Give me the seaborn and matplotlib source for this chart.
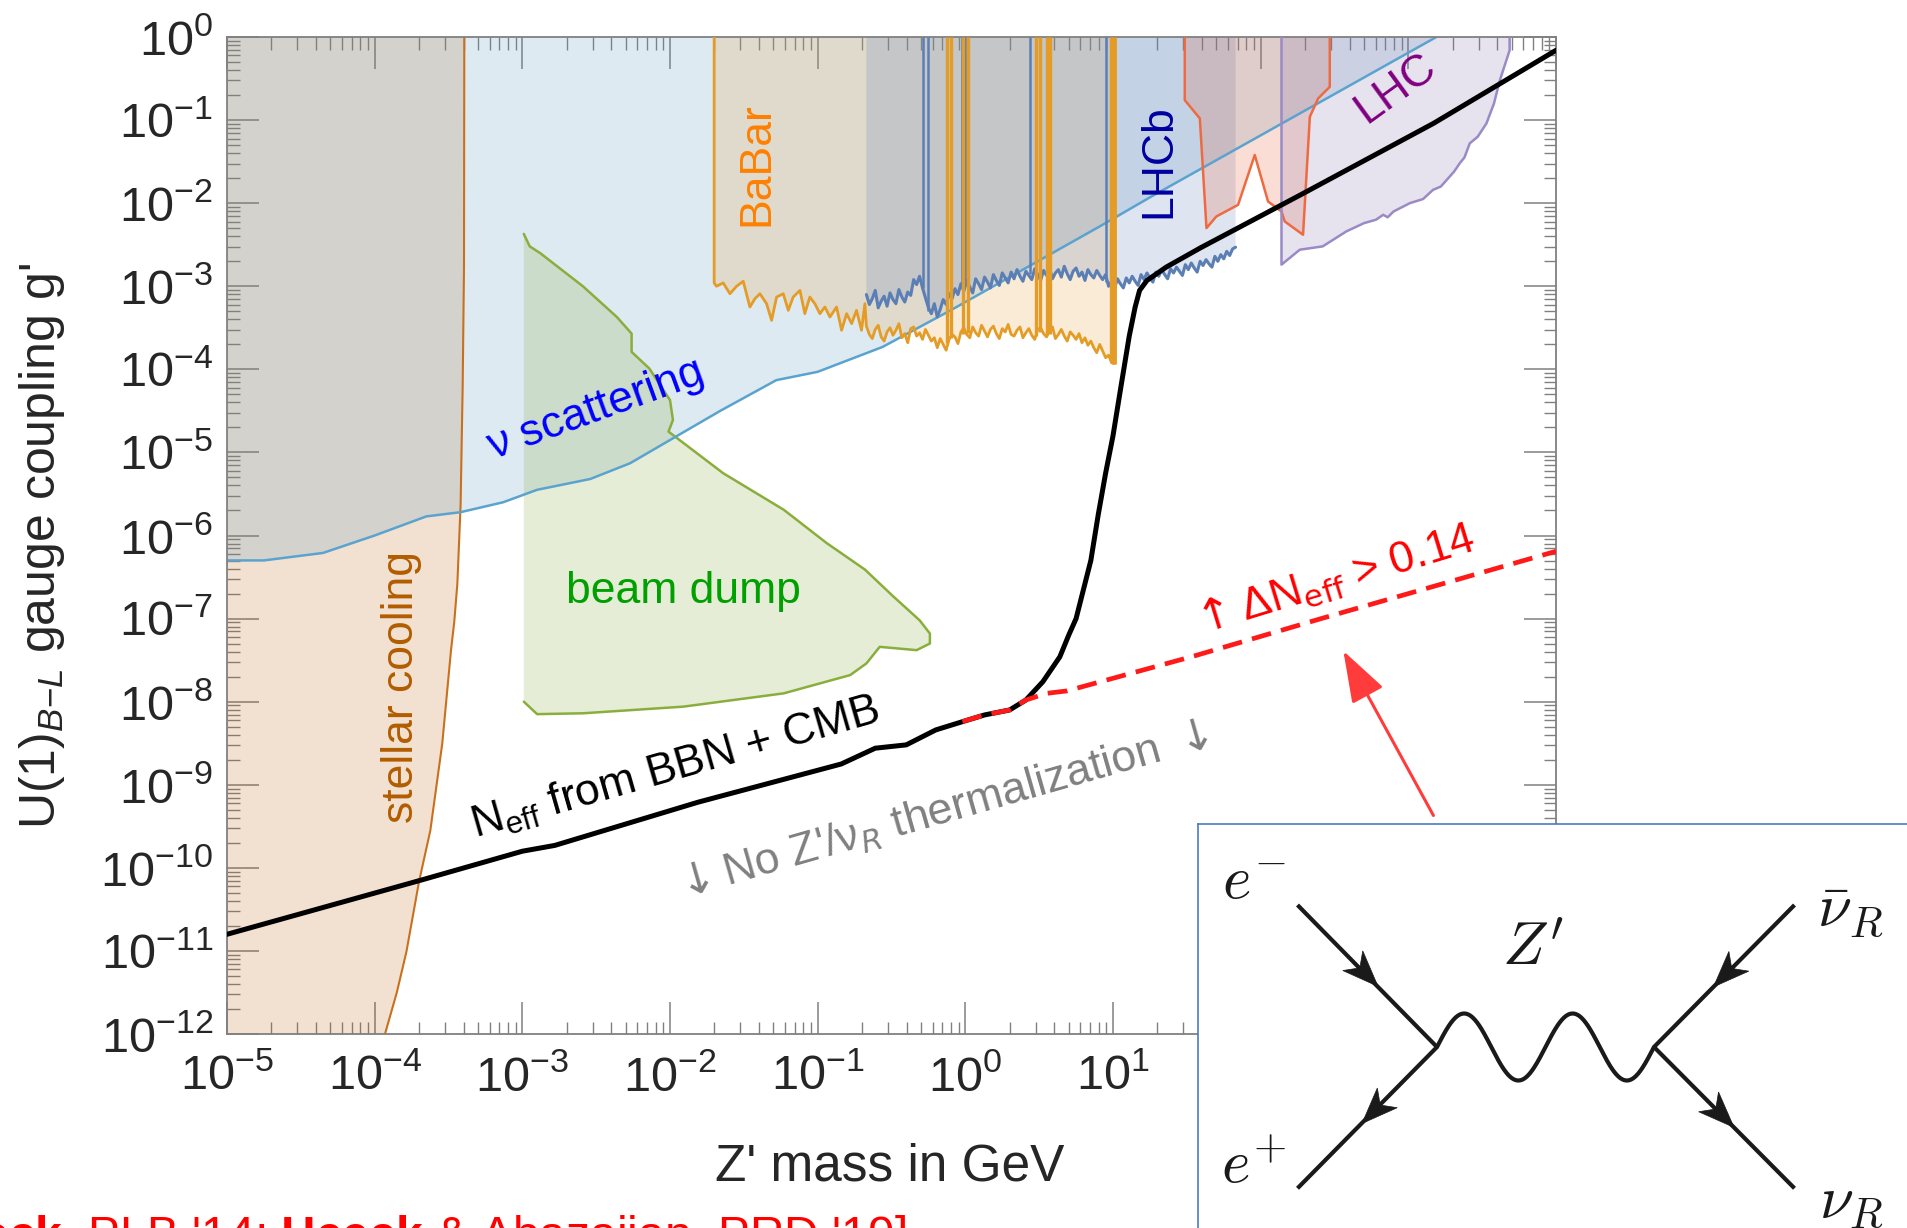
import numpy as np
import pandas as pd
import matplotlib
matplotlib.use("Agg")
import matplotlib.pyplot as plt
from matplotlib.patches import Polygon
from matplotlib.ticker import LogLocator, NullFormatter, LogFormatterSciNotation
import seaborn as sns

# All curves: log10(M_Z' / GeV) and log10(g')

# N_eff bound from BBN + CMB (no Z'/nu_R thermalization below it)
neff_logm = [-5.0, -3.69, -3.0, -2.78, -1.81, -0.84, -0.61, -0.40, -0.20, 0.0, 0.13,
             0.30, 0.41, 0.525, 0.64, 0.70, 0.75, 0.80, 0.85, 0.90, 0.95, 1.00, 1.05,
             1.11, 1.15, 1.18, 1.23, 1.36, 1.59, 1.93, 2.27, 3.17, 4.0]
neff_logg = [-10.80, -10.15, -9.80, -9.73, -9.21, -8.75, -8.56, -8.52, -8.34, -8.23, -8.16,
             -8.10, -7.98, -7.76, -7.46, -7.20, -7.00, -6.65, -6.30, -5.75, -5.25, -4.80, -4.25,
             -3.60, -3.25, -3.05, -2.93, -2.77, -2.54, -2.22, -1.90, -1.04, -0.16]

# Delta N_eff > 0.14 line
dneff_logm = [-0.02, 0.13, 0.30, 0.41, 0.55, 0.69, 1.55, 2.41, 4.0]
dneff_logg = [-8.24, -8.16, -8.10, -7.98, -7.90, -7.87, -7.45, -7.00, -6.19]

# stellar cooling boundary
stellar_logm = [-3.393, -3.395, -3.404, -3.418, -3.44, -3.461, -3.483, -3.542, -3.623,
                -3.70, -3.785, -3.85, -3.93]
stellar_logg = [0.0, -2.77, -4.20, -5.63, -6.58, -7.04, -7.38, -8.50, -9.55,
                -10.17, -11.01, -11.50, -12.0]

# neutrino scattering lower edge
nu_logm = [-5.0, -4.75, -4.35, -4.0, -3.65, -3.42, -3.13, -2.90, -2.54, -2.27, -1.97,
           -1.66, -1.28, -1.0, -0.56, -0.10, 0.91, 1.25, 3.19]
nu_logg = [-6.30, -6.30, -6.21, -6.00, -5.77, -5.72, -5.60, -5.45, -5.32, -5.13, -4.82,
           -4.50, -4.13, -4.03, -3.73, -3.29, -2.28, -1.93, 0.0]

# beam dump contour
beamdump_logm = [-2.99, -2.95, -2.88, -2.59, -2.36, -2.26, -2.26, -2.14, -2.00, -1.98, -2.01,
                 -1.64, -1.23, -0.94, -0.68, -0.49, -0.31, -0.24, -0.24, -0.33, -0.58, -0.67,
                 -0.78, -1.23, -1.91, -2.59, -2.90, -2.99]
beamdump_logg = [-2.37, -2.52, -2.60, -3.00, -3.37, -3.57, -3.79, -3.99, -4.37, -4.61, -4.75,
                 -5.25, -5.69, -6.09, -6.41, -6.73, -7.02, -7.18, -7.30, -7.38, -7.34, -7.54,
                 -7.68, -7.90, -8.06, -8.14, -8.15, -8.00]

# BaBar: coarse low-mass part
babar_lo_logm = [-1.701, -1.685, -1.640, -1.594, -1.549, -1.504, -1.459, -1.425, -1.391,
                 -1.346, -1.312, -1.278, -1.233, -1.199, -1.166, -1.120, -1.087, -1.053,
                 -1.019, -0.985, -0.951, -0.917, -0.872, -0.838, -0.804, -0.770, -0.737,
                 -0.703, -0.680]
babar_lo_logg = [-2.96, -3.00, -2.96, -3.09, -3.00, -2.94, -3.25, -3.15, -3.09,
                 -3.21, -3.41, -3.13, -3.09, -3.29, -3.13, -3.05, -3.33, -3.13,
                 -3.21, -3.33, -3.25, -3.37, -3.25, -3.53, -3.33, -3.45, -3.29,
                 -3.53, -3.21]
# BaBar: fine-binned part, sampled every 0.02 in log10(M)
babar_hi_span = (-0.67, 0.99)
babar_hi_logg = [-3.48, -3.58, -3.63, -3.52, -3.47, -3.61, -3.66, -3.55, -3.50, -3.59,
                 -3.53, -3.45, -3.62, -3.57, -3.68, -3.51, -3.49, -3.60, -3.56, -3.64,
                 -3.52, -3.59, -3.66, -3.62, -3.74, -3.63, -3.70, -3.77, -3.64, -3.58,
                 -3.61, -3.69, -3.55, -3.50, -3.58, -3.62, -3.49, -3.56, -3.60, -3.47,
                 -3.54, -3.61, -3.52, -3.48, -3.57, -3.63, -3.51, -3.55, -3.46, -3.58,
                 -3.60, -3.53, -3.49, -3.62, -3.56, -3.51, -3.59, -3.64, -3.52, -3.50,
                 -3.57, -3.61, -3.54, -3.49, -3.63, -3.58, -3.52, -3.60, -3.66, -3.55,
                 -3.59, -3.64, -3.57, -3.68, -3.62, -3.71, -3.66, -3.74, -3.80, -3.70,
                 -3.78, -3.86, -3.83, -3.92]
babar_end = (1.01, -3.93)
# resonance vetoes in BaBar (mass, lower end of veto line)
babar_veto_logm = [-0.125, -0.095, -0.015, 0.02, 0.48, 0.505, 0.55, 0.57, 0.985]
babar_veto_logg = [-3.68, -3.62, -3.58, -3.56, -3.60, -3.55, -3.58, -3.57, -3.88]

# LHCb dark photon search, sampled every 0.02 in log10(M)
lhcb_span = (-0.67, 1.83)
lhcb_logg = [-3.10, -3.22, -3.15, -3.05, -3.26, -3.18, -3.12, -3.24, -3.08, -3.16,
             -3.21, -3.04, -3.13, -3.19, -3.07, -3.11, -2.92, -2.98, -2.88, -3.02,
             -3.14, -3.26, -3.33, -3.21, -3.37, -3.28, -3.16, -3.22, -3.09, -3.15,
             -3.03, -3.10, -2.97, -3.06, -2.93, -3.01, -3.08, -2.91, -2.97, -3.04,
             -2.89, -2.95, -3.02, -2.86, -2.93, -2.99, -2.84, -2.90, -2.96, -2.83,
             -2.91, -2.80, -2.88, -2.94, -2.82, -2.87, -2.92, -2.79, -2.86, -2.93,
             -2.81, -2.87, -2.78, -2.91, -2.84, -2.80, -2.89, -2.76, -2.85, -2.92,
             -2.82, -2.78, -2.88, -2.83, -2.93, -2.80, -2.86, -2.90, -2.81, -2.87,
             -2.92, -2.86, -3.00, -2.94, -3.03, -2.91, -2.97, -3.02, -2.90, -2.96,
             -2.88, -2.94, -2.99, -2.86, -2.92, -2.84, -2.90, -2.95, -2.83, -2.88,
             -2.80, -2.86, -2.91, -2.79, -2.84, -2.77, -2.82, -2.87, -2.74, -2.80,
             -2.72, -2.78, -2.83, -2.70, -2.75, -2.68, -2.73, -2.77, -2.64, -2.70,
             -2.62, -2.67, -2.58, -2.63, -2.55, -2.53]
lhcb_veto_logm = [-0.29, -0.25, -0.02, 0.0, 0.44, 0.955]
lhcb_veto_logg = [-3.02, -3.30, -3.00, -3.00, -2.85, -2.95]

# dilepton resonance search contour
dilep_logm = [1.486, 1.486, 1.588, 1.633, 1.70, 1.847, 1.96, 2.05, 2.141, 2.163, 2.287,
              2.333, 2.389, 2.468, 2.468]
dilep_logg = [0.0, -0.76, -0.98, -2.30, -2.16, -2.02, -1.42, -1.98, -2.10, -2.22, -2.38,
              -0.96, -0.74, -0.60, 0.0]

# LHC contour
lhc_logm = [2.141, 2.141, 2.265, 2.42, 2.58, 2.70, 2.78, 2.83, 2.86, 2.90, 3.01, 3.10,
            3.167, 3.22, 3.28, 3.31, 3.348, 3.38, 3.416, 3.47, 3.529, 3.58, 3.62, 3.686, 3.686]
lhc_logg = [0.0, -2.74, -2.56, -2.52, -2.34, -2.24, -2.20, -2.14, -2.17, -2.10, -2.00, -1.95,
            -1.84, -1.80, -1.68, -1.62, -1.52, -1.45, -1.28, -1.20, -1.04, -0.80, -0.52, -0.16, 0.0]


def pw(a):
    return np.power(10.0, np.asarray(a, dtype=float))


sns.set_theme(style="ticks")
plt.rcParams["font.family"] = ["Liberation Sans", "DejaVu Sans"]
plt.rcParams["mathtext.fontset"] = "custom"
plt.rcParams["mathtext.rm"] = "Liberation Sans"
plt.rcParams["mathtext.it"] = "Liberation Sans:italic"
plt.rcParams["mathtext.bf"] = "Liberation Sans:bold"
plt.rcParams["mathtext.sf"] = "Liberation Sans"

fig = plt.figure(figsize=(19.07, 12.28), dpi=100)
fig.patch.set_facecolor("white")
ax = fig.add_axes([227 / 1907, 1 - 1034 / 1228, 1329 / 1907, 997 / 1228])
ax.set_facecolor("white")
ax.set_xscale("log")
ax.set_yscale("log")
ax.set_xlim(1e-5, 1e4)
ax.set_ylim(1e-12, 1.0)

A = 0.2
# stellar cooling region
st_m = [-5.0, -5.0] + stellar_logm
st_g = [-12.0, 0.0] + stellar_logg
ax.fill(pw(st_m), pw(st_g), color=(190/255, 105/255, 25/255), alpha=A, lw=0, zorder=1)
# neutrino scattering region
ax.fill(pw(nu_logm + [-5.0]), pw(nu_logg + [0.0]), color=(90/255, 150/255, 190/255),
        alpha=A, lw=0, zorder=1)
# beam dump
ax.fill(pw(beamdump_logm), pw(beamdump_logg), color=(130/255, 165/255, 50/255),
        alpha=A, lw=0, zorder=1)
# BaBar
bb_hi_m = np.linspace(babar_hi_span[0], babar_hi_span[1], len(babar_hi_logg))
bb_m = np.concatenate([[babar_lo_logm[0]], babar_lo_logm, bb_hi_m, [babar_end[0], babar_end[0]]])
bb_g = np.concatenate([[0.0], babar_lo_logg, babar_hi_logg, [babar_end[1], 0.0]])
ax.fill(pw(bb_m), pw(bb_g), color=(230/255, 155/255, 55/255), alpha=A, lw=0, zorder=1)
# LHCb
lh_m = np.linspace(lhcb_span[0], lhcb_span[1], len(lhcb_logg))
ax.fill(pw(np.concatenate([[lh_m[0]], lh_m, [lh_m[-1]]])),
        pw(np.concatenate([[0.0], lhcb_logg, [0.0]])),
        color=(90/255, 120/255, 180/255), alpha=A, lw=0, zorder=1)
# dilepton and LHC
ax.fill(pw(dilep_logm), pw(dilep_logg), color=(230/255, 90/255, 50/255), alpha=A, lw=0, zorder=1)
ax.fill(pw(lhc_logm), pw(lhc_logg), color=(130/255, 110/255, 170/255), alpha=A, lw=0, zorder=1)

# boundaries
ax.plot(pw(stellar_logm), pw(stellar_logg), color="#c8701e", lw=1.5, zorder=2)
ax.plot(pw(nu_logm), pw(nu_logg), color="#5ba3cf", lw=1.8, zorder=2.5)
ax.plot(pw(beamdump_logm), pw(beamdump_logg), color="#8aae3c", lw=1.8, zorder=2)
ax.plot(pw(lh_m), pw(lhcb_logg), color="#5b7fb5", lw=2.2, zorder=3)
ax.vlines(pw(lhcb_veto_logm), pw(lhcb_veto_logg), 1.0, colors="#5b7fb5", lw=1.8, zorder=3)
ax.plot(pw(bb_m[:-1]), pw(bb_g[:-1]), color="#e49c26", lw=2.0, zorder=3.5)
ax.vlines(pw(babar_veto_logm), pw(babar_veto_logg), 1.0, colors="#e49c26", lw=2.4, zorder=3.5)
ax.vlines(pw([babar_end[0]]), pw([babar_end[1]]), 1.0, colors="#e49c26", lw=3.5, zorder=3.5)
ax.plot(pw(dilep_logm), pw(dilep_logg), color="#ee6a40", lw=1.8, zorder=3)
ax.plot(pw(lhc_logm), pw(lhc_logg), color="#9a8ac6", lw=1.8, zorder=3)

# cosmology lines
neff_df = pd.DataFrame({"mass": pw(neff_logm), "g": pw(neff_logg)})
sns.lineplot(data=neff_df, x="mass", y="g", sort=False, estimator=None, color="black",
             linewidth=3.6, ax=ax, zorder=5)
ax.plot(pw(dneff_logm), pw(dneff_logg), color="#ff1a1a", lw=3.4, dashes=(4.2, 2.2), zorder=6)

ax.annotate("", xy=(pw(2.56), pw(-7.39)), xytext=(pw(3.17), pw(-9.37)),
            arrowprops=dict(arrowstyle="-|>,head_length=1.6,head_width=0.55", mutation_scale=20,
                            color="#ff3b3b", lw=2.2, shrinkA=0, shrinkB=0), zorder=8)

# region labels (text, log10 M, log10 g, angle, colour, math font)
labels = [
    ("stellar cooling", -3.82, -7.82, 90, "#b35c00", "custom"),
    ("ν scattering", -2.50, -4.49, 20, "#0000ff", "custom"),
    ("beam dump", -1.909, -6.68, 0, "#00a000", "custom"),
    ("BaBar", -1.415, -1.53, 90, "#ff8000", "custom"),
    ("LHCb", 1.31, -1.50, 90, "#0000a0", "custom"),
    ("LHC", 2.915, -0.62, 36, "#800080", "custom"),
    (r"N$_{\rm eff}$ from BBN + CMB", -1.967, -8.80, 16, "black", "custom"),
    (r"${\downarrow}$No Z'/ν$_R$ thermalization ${\downarrow}$", -0.172, -9.33, 16, "#808080",
     "dejavusans"),
    (r"${\uparrow}$ΔN$_{\rm eff}$ > 0.14", 2.48, -6.55, 17, "#ff0000", "dejavusans"),
]
for txt, lm, lg, rot, col, mf in labels:
    ax.text(pw(lm), pw(lg), txt, color=col, fontsize=32, rotation=rot,
            rotation_mode="anchor", ha="center", va="center", zorder=9, math_fontfamily=mf)

# axes styling
for s in ax.spines.values():
    s.set_color("#808080")
    s.set_linewidth(1.3)
for axis in (ax.xaxis, ax.yaxis):
    axis.set_major_locator(LogLocator(base=10, numticks=40))
    axis.set_minor_locator(LogLocator(base=10, subs=np.arange(2, 10), numticks=40))
    axis.set_minor_formatter(NullFormatter())
    axis.set_major_formatter(LogFormatterSciNotation())
ax.tick_params(which="both", direction="in", top=True, right=True, color="#808080")
ax.tick_params(which="major", length=23, width=1.1, labelsize=35)
ax.tick_params(which="minor", length=9, width=1.0)
ax.tick_params(axis="x", which="major", pad=15)
ax.tick_params(axis="y", which="major", pad=10)
ax.set_xlabel("Z' mass in GeV", fontsize=37)
ax.set_ylabel("U(1)$_{B{-}L}$ gauge coupling g'", fontsize=36)
ax.xaxis.set_label_coords(0.4989, -0.109)
ax.yaxis.set_label_coords(-0.1204, 0.489)

# citation
fig.text(-0.049, -0.0179, r"[$\mathbf{Heeck}$, PLB '14; $\mathbf{Heeck}$ & Abazajian, PRD '19]",
         color="#ff0000", fontsize=34.5, ha="left", va="baseline")

# Feynman diagram inset (units: pixels of the figure)
ins = fig.add_axes([1198 / 1907, (1228 - 1300) / 1228, (2100 - 1198) / 1907, (1300 - 824) / 1228])
ins.set_zorder(10)
ins.set_facecolor("white")
ins.set_xlim(1198, 2100)
ins.set_ylim(1300, 824)
ins.set_xticks([])
ins.set_yticks([])
for side in ("right", "bottom"):
    ins.spines[side].set_visible(False)
for side in ("left", "top"):
    ins.spines[side].set_color("#4a7bc4")
    ins.spines[side].set_linewidth(1.2)

ink = "#1a1a1a"
v1 = np.array([1437.0, 1047.0])
v2 = np.array([1654.0, 1047.0])
legs = [((1297.5, 905.0), v1), (v1, (1297.5, 1188.3)), ((1794.5, 905.0), v2), (v2, (1794.5, 1188.3))]
for a, b in legs:
    ins.plot([a[0], b[0]], [a[1], b[1]], color=ink, lw=3.0, solid_capstyle="butt")

xs = np.linspace(v1[0], v2[0], 300)
ins.plot(xs, v1[1] - 33.5 * np.sin(2 * np.pi * 2 * (xs - v1[0]) / (v2[0] - v1[0])),
         color=ink, lw=3.0)


def arrow_head(tip, direction, L=36.0, W=28.0):
    d = np.asarray(direction, float)
    d = d / np.linalg.norm(d)
    n = np.array([-d[1], d[0]])
    tip = np.asarray(tip, float)
    back = tip - L * d
    pts = [tip, back + W / 2 * n, tip - 0.72 * L * d, back - W / 2 * n]
    ins.add_patch(Polygon(pts, closed=True, facecolor=ink, edgecolor=ink, lw=0.5, zorder=4))


arrow_head((1378.0, 986.4), (139.5, 142.0))
arrow_head((1362.0, 1123.5), (-139.5, 141.3))
arrow_head((1713.5, 986.9), (-140.5, 142.0))
arrow_head((1734.0, 1127.4), (140.5, 141.3))

for txt, x, y in [(r"$e^{-}$", 1254, 884), (r"$e^{+}$", 1254, 1168), (r"$Z'$", 1533, 950),
                  (r"$\bar{\nu}_R$", 1851, 911), (r"$\nu_R$", 1851, 1202)]:
    ins.text(x, y, txt, fontsize=44, ha="center", va="center", color=ink, math_fontfamily="cm")

fig.savefig("out.png", dpi=100)
